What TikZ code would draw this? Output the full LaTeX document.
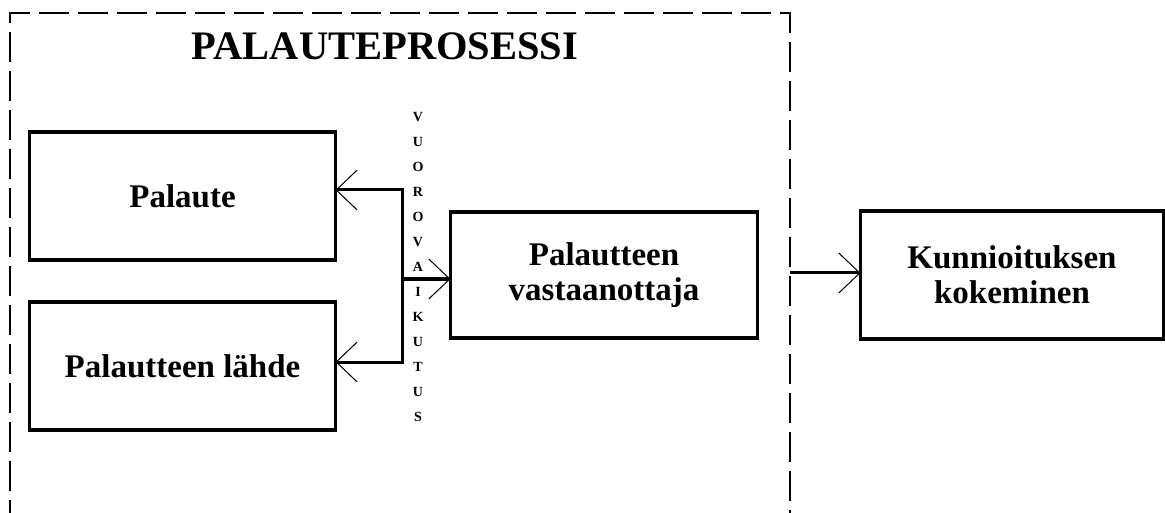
\documentclass[tikz,border=0pt]{standalone}
\usepackage{fontspec}
\setmainfont{Liberation Serif}
\usetikzlibrary{arrows.meta}
\begin{document}
\begin{tikzpicture}[x=1pt,y=-1pt,
  box/.style={draw, line width=3.2pt, inner sep=0pt, outer sep=0pt, align=center,
    font=\fontsize{33}{35}\selectfont\bfseries},
  conn/.style={line width=3pt, -{Straight Barb[length=21pt,width=40pt,line width=1pt]}},
  frameline/.style={line width=1.6pt, dash pattern=on 30pt off 9pt},
  titletext/.style={inner sep=0pt, font=\fontsize{40.5}{48}\selectfont\bfseries},
  vlabel/.style={inner sep=0pt, align=center, font=\fontsize{14}{25}\selectfont\bfseries}]
\useasboundingbox (0,0) rectangle (1165,513);
\clip (0,0) rectangle (1165,513);
% frame (open at the bottom)
\draw[frameline] (10,530) -- (10,13) -- (790,13) -- (790,530);
\node[titletext, anchor=base] (title) at (385,60) {PALAUTEPROSESSI};
% boxes
\node[box, minimum width=306pt, minimum height=128pt] (palaute) at (182.5,196) {Palaute};
\node[box, minimum width=306pt, minimum height=128pt] (lahde) at (182.5,366) {Palautteen lähde};
\node[box, minimum width=307pt, minimum height=126pt] (vast) at (604,275) {Palautteen\\vastaanottaja};
\node[box, minimum width=303pt, minimum height=128pt] (kunn) at (1012,275) {Kunnioituksen\\kokeminen};
% vertical label
\node[vlabel] (vuoro) at (418,267) {V\\U\\O\\R\\O\\V\\A\\I\\K\\U\\T\\U\\S};
% connectors
\coordinate (j) at (402,279);
\coordinate (jt) at (402,190);
\coordinate (jb) at (402,362);
\coordinate (fr) at (790,273);
\draw[conn] (j) -- (j -| vast.west);
\draw[conn] (j) -- (jt) -- (jt -| palaute.east);
\draw[conn] (j) -- (jb) -- (jb -| lahde.east);
\draw[conn] (fr) -- (fr -| kunn.west);
\end{tikzpicture}
\end{document}
